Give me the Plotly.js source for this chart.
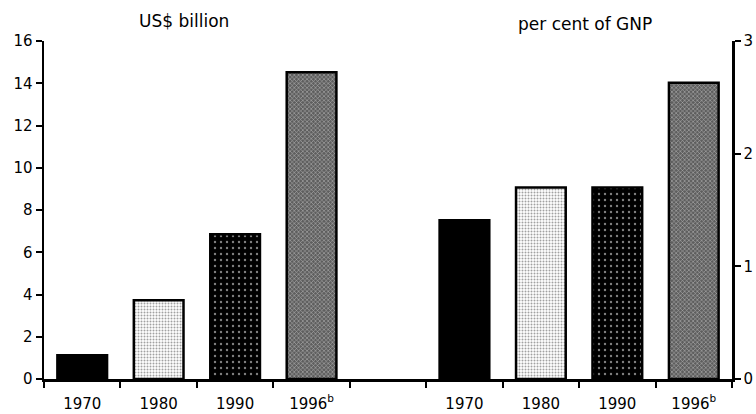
<!DOCTYPE html>
<html>
<head>
<meta charset="utf-8">
<script src="https://cdn.plot.ly/plotly-3.0.1.min.js"></script>
<style>html,body{margin:0;padding:0;background:#fff}#chart{width:756px;height:414px}</style>
</head>
<body>
<div id="chart"></div>
<script>
const years = ['1970', '1980', '1990', '1996<sup>b</sup>'];
const usdBillion = [1.13, 3.73, 6.85, 14.52];
const pctGNP = [1.41, 1.70, 1.70, 2.63];
const leftTitle = 'US$ billion';
const rightTitle = 'per cent of GNP';

const fills = ['#000000', '#ffffff', '#000000', '#5e5e5e'];
const dots = ['#000000', '#6a6a6a', '#ffffff', '#e4e4e4'];
const shapes = ['', '.', '.', 'x'];
const solid = [0.1, 0.35, 0.12, 0.35];
const sizes = [6, 3, 6, 3];

const leftX = years.map((_, i) => i);
const rightX = years.map((_, i) => i + years.length + 1);

function barTrace(x, y, yaxis) {
  return {
    type: 'bar', x: x, y: y, yaxis: yaxis, width: 0.65,
    marker: {
      color: fills,
      line: {color: '#000', width: 2.5},
      pattern: {shape: shapes, fgcolor: dots, solidity: solid, size: sizes, fillmode: 'overlay'}
    },
    hoverinfo: 'none', showlegend: false
  };
}

const data = [barTrace(leftX, usdBillion, 'y'), barTrace(rightX, pctGNP, 'y2')];
const fam = 'DejaVu Sans, sans-serif';
const tickFont = {family: fam, size: 15, color: '#000'};

const layout = {
  width: 756, height: 414,
  margin: {l: 44, r: 24, t: 41, b: 35},
  paper_bgcolor: '#fff', plot_bgcolor: '#fff',
  bargap: 0,
  xaxis: {
    range: [-0.5, 2 * years.length + 0.5],
    tickvals: leftX.concat(rightX), ticktext: years.concat(years),
    ticks: '', showgrid: false, zeroline: false,
    showline: true, linecolor: '#000', linewidth: 2.5,
    tickfont: tickFont, ticklabelstandoff: 9,
    minor: {tick0: -0.5, dtick: 1, ticks: 'outside', ticklen: 6, tickwidth: 2, tickcolor: '#000', showgrid: false}
  },
  yaxis: {
    range: [0, 16], tickvals: [0, 2, 4, 6, 8, 10, 12, 14, 16],
    ticks: 'outside', ticklen: 6, tickwidth: 2, tickcolor: '#000',
    showline: true, linecolor: '#000', linewidth: 2.5,
    showgrid: false, zeroline: false, tickfont: tickFont
  },
  yaxis2: {
    range: [0, 3], tickvals: [0, 1, 2, 3], overlaying: 'y', side: 'right',
    ticks: 'outside', ticklen: 6, tickwidth: 2, tickcolor: '#000',
    showline: true, linecolor: '#000', linewidth: 2.5,
    showgrid: false, zeroline: false, tickfont: tickFont
  },
  annotations: [
    {text: leftTitle, xref: 'paper', yref: 'paper', x: 0.2035, xanchor: 'center', y: 1.0, yshift: 20, yanchor: 'middle', showarrow: false,
     font: {family: fam, size: 17, color: '#000'}},
    {text: rightTitle, xref: 'paper', yref: 'paper', x: 0.786, xanchor: 'center', y: 1.0, yshift: 17, yanchor: 'middle', showarrow: false,
     font: {family: fam, size: 17, color: '#000'}}
  ]
};

Plotly.newPlot('chart', data, layout, {displayModeBar: false, staticPlot: true});
</script>
</body>
</html>
